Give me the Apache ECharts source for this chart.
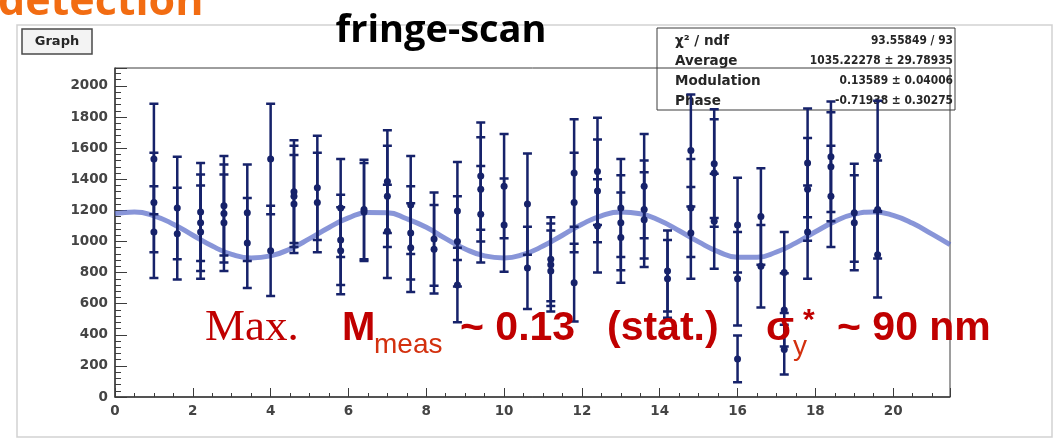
<!DOCTYPE html>
<html>
<head>
<meta charset="utf-8">
<script src="https://cdn.jsdelivr.net/npm/echarts@6/dist/echarts.min.js"></script>
<style>
  html, body { margin: 0; padding: 0; background: #ffffff; }
  #chart { width: 1058px; height: 440px; }
</style>
</head>
<body>
<div id="chart"></div>
<script>
// Scan positions (x) of the fringe scan
const scanX = [1.0, 1.6, 2.2, 2.8, 3.4, 4.0, 4.6, 5.2, 5.8, 6.4, 7.0, 7.6, 8.2, 8.8, 9.4, 10.0,
               10.6, 11.2, 11.8, 12.4, 13.0, 13.6, 14.2, 14.8, 15.4, 16.0, 16.6, 17.2, 17.8, 18.4, 19.0, 19.6];

// Measured counts at each scan position (repeated measurements)
const counts = [
  [1530, 1250, 1060], [1215, 1050], [1190, 1120, 1060], [1230, 1180, 1120],
  [1185, 990], [1530, 940], [1320, 1290, 1240], [1345, 1250],
  [1215, 1010, 940], [1205, 1190], [1385, 1290, 1065], [1235, 1055, 960],
  [1015, 950], [1195, 1000, 720], [1420, 1335, 1175], [1355, 1105],
  [1240, 830], [885, 850, 810], [1440, 1250, 735], [1450, 1325, 1100],
  [1215, 1120, 1025], [1355, 1205, 1140], [810, 760], [1585, 1215, 1055],
  [1500, 1440, 1130], [1105, 760, 245], [1160, 840], [800, 560, 305],
  [1505, 1335, 1060], [1545, 1480, 1290], [1185, 1120], [1550, 1205, 915]
];

// Statistical error of each measurement
const errors = [
  [355, 320, 295], [330, 295], [315, 310, 300], [320, 315, 310],
  [310, 290], [355, 290], [330, 325, 315], [335, 320],
  [315, 290, 280], [320, 315], [330, 325, 300], [315, 300, 285],
  [300, 285], [315, 290, 240], [345, 335, 310], [335, 300],
  [325, 265], [270, 265, 260], [345, 320, 250], [345, 330, 300],
  [315, 305, 290], [335, 315, 305], [260, 250], [360, 315, 295],
  [350, 345, 305], [305, 300, 150], [310, 265], [260, 235, 160],
  [350, 330, 300], [355, 350, 325], [315, 305], [355, 315, 275]
];

// Fitted modulation curve
const fitX = [0, 0.5, 1, 1.5, 2, 2.5, 3, 3.5, 4, 4.5, 5, 5.5, 6, 6.5, 7, 7.5, 8, 8.5, 9, 9.5, 10,
              10.5, 11, 11.5, 12, 12.5, 13, 13.5, 14, 14.5, 15, 15.5, 16, 16.5, 17, 17.5, 18, 18.5,
              19, 19.5, 20, 20.5, 21, 21.46];
const fitY = [1179, 1189, 1165, 1111, 1040, 970, 917, 894, 907, 952, 1018, 1090, 1151, 1186, 1185,
              1146, 1091, 1018, 952, 907, 894, 917, 970, 1040, 1111, 1165, 1189, 1178, 1135, 1069,
              997, 935, 899, 898, 932, 991, 1062, 1129, 1176, 1190, 1168, 1117, 1047, 980];

// Fit statistics
const statLabels = ['\u03C7\u00B2 / ndf', 'Average', 'Modulation', 'Phase'];
const statValues = ['93.55849 / 93', '1035.22278 \u00B1 29.78935', '0.13589 \u00B1 0.04006', '-0.71938 \u00B1 0.30275'];

const xTicks = { min: 0, max: 21.46, step: 2 };
const yTicks = { min: 0, max: 2115, step: 200 };

const NAVY = '#16226a';
const RED = '#c00000';
const SUBRED = '#d3300e';
const ROOTFONT = '"DejaVu Sans"';

const points = [];
scanX.forEach((x, i) => {
  counts[i].forEach((v, j) => points.push([x, v, errors[i][j]]));
});
const fitData = fitX.map((x, i) => [x, fitY[i]]);

const chart = echarts.init(document.getElementById('chart'), null, { renderer: 'canvas' });

const axisFont = { fontFamily: 'DejaVu Sans', fontSize: 13.5, fontWeight: 'bold', color: '#444444' };

const statText = [];
statLabels.forEach((t, i) => {
  const y = 41 + i * 20;
  statText.push({ type: 'text', x: 675, y, z: 1, silent: true,
    style: { text: t, fill: '#262626', font: 'bold 13.5px ' + ROOTFONT, textAlign: 'left', textVerticalAlign: 'middle' } });
  statText.push({ type: 'text', x: 953, y, z: 1, silent: true, scaleX: 0.82,
    style: { text: statValues[i], fill: '#262626', font: 'bold 13px ' + ROOTFONT, textAlign: 'right', textVerticalAlign: 'middle' } });
});

function txt(text, x, y, font, fill, align) {
  return { type: 'text', x, y, z: 50, silent: true,
    style: { text, fill, font, textAlign: align || 'left', textVerticalAlign: 'bottom' } };
}

chart.setOption({
  animation: false,
  backgroundColor: '#ffffff',
  grid: { left: 115, top: 68, right: 108, bottom: 43, show: true, borderColor: '#3c3c3c', borderWidth: 1, backgroundColor: 'transparent' },
  xAxis: {
    type: 'value', min: xTicks.min, max: xTicks.max, interval: xTicks.step,
    axisLine: { show: true, onZero: false, lineStyle: { color: '#3c3c3c', width: 1.5 } },
    axisTick: { show: true, inside: true, length: 9, lineStyle: { color: '#3c3c3c' } },
    minorTick: { show: true, splitNumber: 4, length: 4, lineStyle: { color: '#3c3c3c' } },
    splitLine: { show: false },
    axisLabel: Object.assign({ margin: 7, showMaxLabel: false, formatter: v => String(v) }, axisFont)
  },
  yAxis: {
    type: 'value', min: yTicks.min, max: yTicks.max, interval: yTicks.step,
    axisLine: { show: true, onZero: false, lineStyle: { color: '#3c3c3c', width: 1.5 } },
    axisTick: { show: true, inside: true, length: 12, lineStyle: { color: '#3c3c3c' } },
    minorTick: { show: true, splitNumber: 5, length: 6, lineStyle: { color: '#3c3c3c' } },
    splitLine: { show: false },
    axisLabel: Object.assign({ margin: 7, showMaxLabel: false, formatter: v => String(v) }, axisFont)
  },
  series: [
    {
      type: 'line', data: fitData, smooth: 0.5, showSymbol: false, z: 2,
      lineStyle: { color: '#5a6cc9', width: 5, opacity: 0.72 }
    },
    {
      // error bars with end caps
      type: 'custom', data: points, z: 3,
      renderItem(params, api) {
        const x = api.value(0), y = api.value(1), e = api.value(2);
        const hi = api.coord([x, y + e]);
        const lo = api.coord([x, y - e]);
        const w = 4.5;
        return {
          type: 'polyline',
          shape: { points: [[hi[0] - w, hi[1]], [hi[0] + w, hi[1]], [hi[0], hi[1]], [lo[0], lo[1]], [lo[0] - w, lo[1]], [lo[0] + w, lo[1]]] },
          style: { stroke: NAVY, lineWidth: 2.5, fill: null }
        };
      }
    },
    {
      type: 'scatter', data: points, z: 4, symbol: 'circle', symbolSize: 7,
      itemStyle: { color: NAVY, opacity: 1 }
    }
  ],
  graphic: [
    { type: 'rect', z: -10, silent: true, shape: { x: 17, y: 25, width: 1035, height: 412 },
      style: { fill: null, stroke: '#d2d2d2', lineWidth: 1.5 } },
    { type: 'rect', z: 1, silent: true, shape: { x: 22, y: 29, width: 70, height: 25 },
      style: { fill: '#f3f3f3', stroke: '#4a4a4a', lineWidth: 1.5 } },
    { type: 'text', z: 2, x: 57, y: 42, silent: true,
      style: { text: 'Graph', fill: '#262626', font: 'bold 13px ' + ROOTFONT, textAlign: 'center', textVerticalAlign: 'middle' } },
    { type: 'rect', z: 1, silent: true, shape: { x: 657, y: 28, width: 298, height: 82 },
      style: { fill: null, stroke: '#3c3c3c', lineWidth: 1 } },
    ...statText,
    txt('detection', -2, 24, 'bold 43px "Open Sans"', '#f26c12'),
    txt('fringe-scan', 441, 50, 'bold 38px "Open Sans"', '#000000', 'center'),
    txt('Max.', 205, 351, 'normal 45px "Liberation Serif"', RED),
    txt('M', 342, 349, 'bold 40px "Liberation Sans"', RED),
    txt('meas', 374, 359, 'normal 28px "Liberation Sans"', SUBRED),
    txt('~ 0.13', 460, 349, 'bold 41px "Liberation Sans"', RED),
    txt('(stat.)', 607, 349, 'bold 41px "Liberation Sans"', RED),
    txt('\u03C3', 766, 349, 'bold 41px "Liberation Sans"', RED),
    txt('y', 793, 361, 'normal 28px "Liberation Sans"', SUBRED),
    txt('*', 803, 336, 'bold 30px "Liberation Sans"', RED),
    txt('~ 90 nm', 837, 349, 'bold 41px "Liberation Sans"', RED)
  ]
});
</script>
</body>
</html>
